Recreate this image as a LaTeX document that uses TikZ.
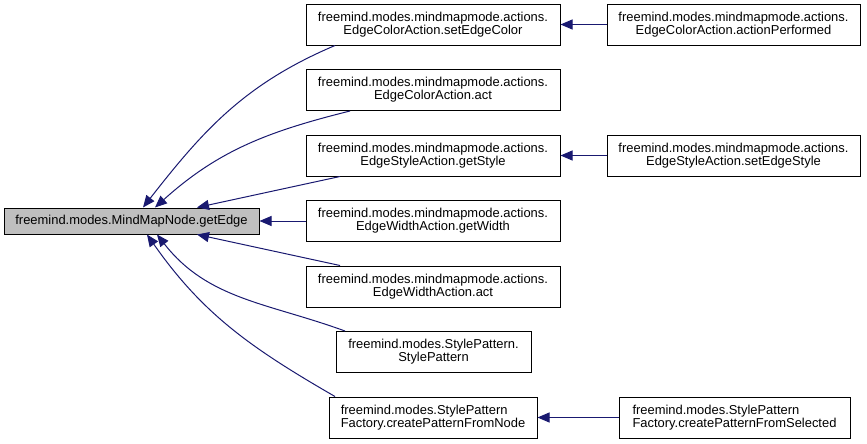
\documentclass[tikz,border=0pt]{standalone}
\usepackage{fontspec}
\setmainfont{Liberation Sans}
\usetikzlibrary{arrows.meta}
\definecolor{edgeblue}{HTML}{191970}
\definecolor{mainfill}{HTML}{BFBFBF}

\begin{document}
\begin{tikzpicture}[
    x=0.75pt, y=0.75pt,
    font=\fontsize{9.7}{9.9}\selectfont,
    fn/.style={rectangle, draw=black, line width=0.75pt, fill=white, minimum height=30.75pt, align=center, inner sep=0pt},
    fnL/.style={fn, align=left},
    fnMain/.style={fn, fill=mainfill, minimum height=19.5pt, minimum width=191.25pt},
    call/.style={draw=edgeblue, line width=0.75pt, -{Triangle[length=9pt, width=7.5pt]}}
]
\useasboundingbox (0,0) rectangle (867,-443);

\node[fnMain] (getEdge) at (131.5,-221) {freemind.modes.MindMapNode.getEdge};

% callers
\node[fn, minimum width=190.5pt] (setColor) at (433,-24.5) {freemind.modes.mindmapmode.actions.\\EdgeColorAction.setEdgeColor};
\node[fn, minimum width=190.5pt] (colorAct) at (433,-90) {freemind.modes.mindmapmode.actions.\\EdgeColorAction.act};
\node[fn, minimum width=190.5pt] (getStyle) at (433,-155.5) {freemind.modes.mindmapmode.actions.\\EdgeStyleAction.getStyle};
\node[fn, minimum width=190.5pt] (getWidth) at (433,-221) {freemind.modes.mindmapmode.actions.\\EdgeWidthAction.getWidth};
\node[fn, minimum width=190.5pt] (widthAct) at (433,-286.5) {freemind.modes.mindmapmode.actions.\\EdgeWidthAction.act};
\node[fn, minimum width=146.25pt] (stylePat) at (433.5,-352) {freemind.modes.StylePattern.\\StylePattern};
\node[fnL, minimum width=156pt] (fromNode) at (433,-417.5) {freemind.modes.StylePattern\\Factory.createPatternFromNode};

% callers of callers
\node[fn, minimum width=189.75pt] (actPerf) at (733.5,-24.5) {freemind.modes.mindmapmode.actions.\\EdgeColorAction.actionPerformed};
\node[fn, minimum width=189.75pt] (setStyle) at (733.5,-155.5) {freemind.modes.mindmapmode.actions.\\EdgeStyleAction.setEdgeStyle};
\node[fnL, minimum width=173.25pt] (fromSel) at (734.5,-417.5) {freemind.modes.StylePattern\\Factory.createPatternFromSelected};

\draw[call] ([shift={(-98,0)}]setColor.south) to[out=203, in=52] ([shift={(11.5,0)}]getEdge.north);
\draw[call] ([shift={(-83,0)}]colorAct.south) to[out=194, in=42] ([shift={(23.5,0)}]getEdge.north);
\draw[call] ([shift={(-93,0)}]getStyle.south) -- ([shift={(65.5,0)}]getEdge.north);
\draw[call] (getWidth) -- (getEdge);
\draw[call] ([shift={(-93,0)}]widthAct.north) -- ([shift={(65.5,0)}]getEdge.south);
\draw[call] ([shift={(-88.5,0)}]stylePat.north) to[out=160, in=-52] ([shift={(25.5,0)}]getEdge.south);
\draw[call] ([shift={(-98,0)}]fromNode.north) to[out=150, in=-55] ([shift={(15.5,0)}]getEdge.south);

\draw[call] (actPerf) -- (setColor);
\draw[call] (setStyle) -- (getStyle);
\draw[call] (fromSel) -- (fromNode);
\end{tikzpicture}
\end{document}
